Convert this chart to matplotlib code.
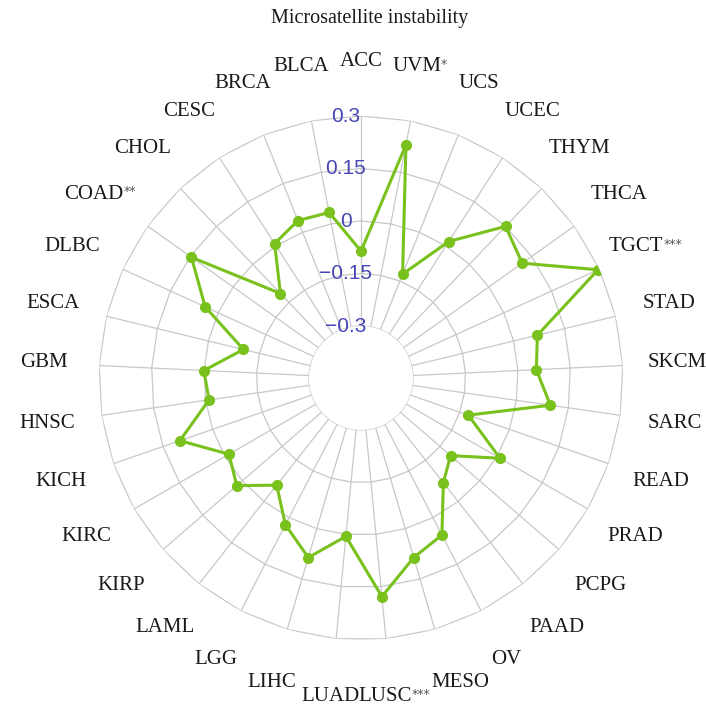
import numpy as np
import matplotlib.pyplot as plt
from matplotlib.transforms import offset_copy

cancers = ["ACC", "UVM", "UCS", "UCEC", "THYM", "THCA", "TGCT", "STAD", "SKCM",
           "SARC", "READ", "PRAD", "PCPG", "PAAD", "OV", "MESO", "LUSC", "LUAD",
           "LIHC", "LGG", "LAML", "KIRP", "KIRC", "KICH", "HNSC", "GBM", "ESCA",
           "DLBC", "COAD", "CHOL", "CESC", "BRCA", "BLCA"]
stars = {"UVM": "*", "TGCT": "***", "LUSC": "***", "COAD": "**"}
msi = [-0.086, 0.230, -0.129, 0.015, 0.150, 0.117, 0.296, 0.070, 0.053,
       0.098, -0.124, 0.010, -0.110, -0.068, 0.056, 0.086, 0.179, 0.006,
       0.086, 0.023, -0.059, 0.021, -0.013, 0.099, -0.010, 0.001, -0.103,
       0.041, 0.146, -0.115, 0.008, 0.036, 0.033]
rticks = [-0.3, -0.15, 0, 0.15, 0.3]
rtick_labels = ["\u22120.3", "\u22120.15", "0", "0.15", "0.3"]

green = "#79c11c"
gridc = "#c8c8c8"
blue = "#4646b4"

# small label nudges (points) to keep the crowded bottom labels apart
nudge = {"LUSC": (5, -2), "LUAD": (0, -2), "MESO": (7, 0)}

n = len(cancers)
theta = np.arange(n) * 2 * np.pi / n
rmin, rmax = -0.3, 0.3
rorigin = rmin - (rmax - rmin) * 52 / 210

fig = plt.figure(figsize=(7.06, 7.07), dpi=100)
ax = fig.add_axes([99 / 706, 67 / 707, 524 / 706, 524 / 707], projection="polar")
ax.set_theta_zero_location("N")
ax.set_theta_direction(-1)
ax.set_ylim(rmin, rmax)
ax.set_rorigin(rorigin)
ax.grid(False)
ax.set_xticks([])
ax.set_yticks([])
ax.set_frame_on(False)

# polygon grid + inner circle
tc = np.append(theta, theta[0])
for lv in rticks[1:]:
    ax.plot(tc, [lv] * (n + 1), color=gridc, lw=0.9, zorder=1)
circ = np.linspace(0, 2 * np.pi, 300)
ax.plot(circ, [rmin] * 300, color=gridc, lw=0.9, zorder=1)
for t in theta:
    ax.plot([t, t], [rmin, rmax], color=gridc, lw=0.9, zorder=1)

# data
vals = np.append(msi, msi[0])
ax.plot(tc, vals, color=green, lw=2.2, zorder=3)
ax.plot(theta, msi, "o", color=green, ms=7, zorder=4)

# radial tick labels
for v, lbl in zip(rticks, rtick_labels):
    ax.annotate(lbl, xy=(0, v), xytext=(-11, 0), textcoords="offset points",
                ha="center", va="center", color=blue, fontsize=15,
                family="Liberation Sans", zorder=5)

# category labels
lab_r = rorigin + 317 / 262 * (rmax - rorigin)
for t, name in zip(theta, cancers):
    s = stars.get(name, "")
    dx, dy = nudge.get(name, (0, 0))
    dx -= len(s) * 3.2
    tr = offset_copy(ax.transData, fig=fig, x=dx, y=dy, units="points")
    txt = ax.text(t, lab_r, name, transform=tr, ha="center", va="center",
                  fontsize=15, family="Liberation Serif", color="#1a1a1a")
    if s:
        ax.annotate(s, xy=(1, 0.62), xycoords=txt, ha="left", va="center",
                    fontsize=9, color="#555555", family="DejaVu Sans")

fig.text(370 / 706, 1 - 19 / 707, "Microsatellite instability", ha="center",
         va="center", fontsize=14.5, family="Liberation Serif", color="#1a1a1a")

fig.savefig("out.png", dpi=100)
